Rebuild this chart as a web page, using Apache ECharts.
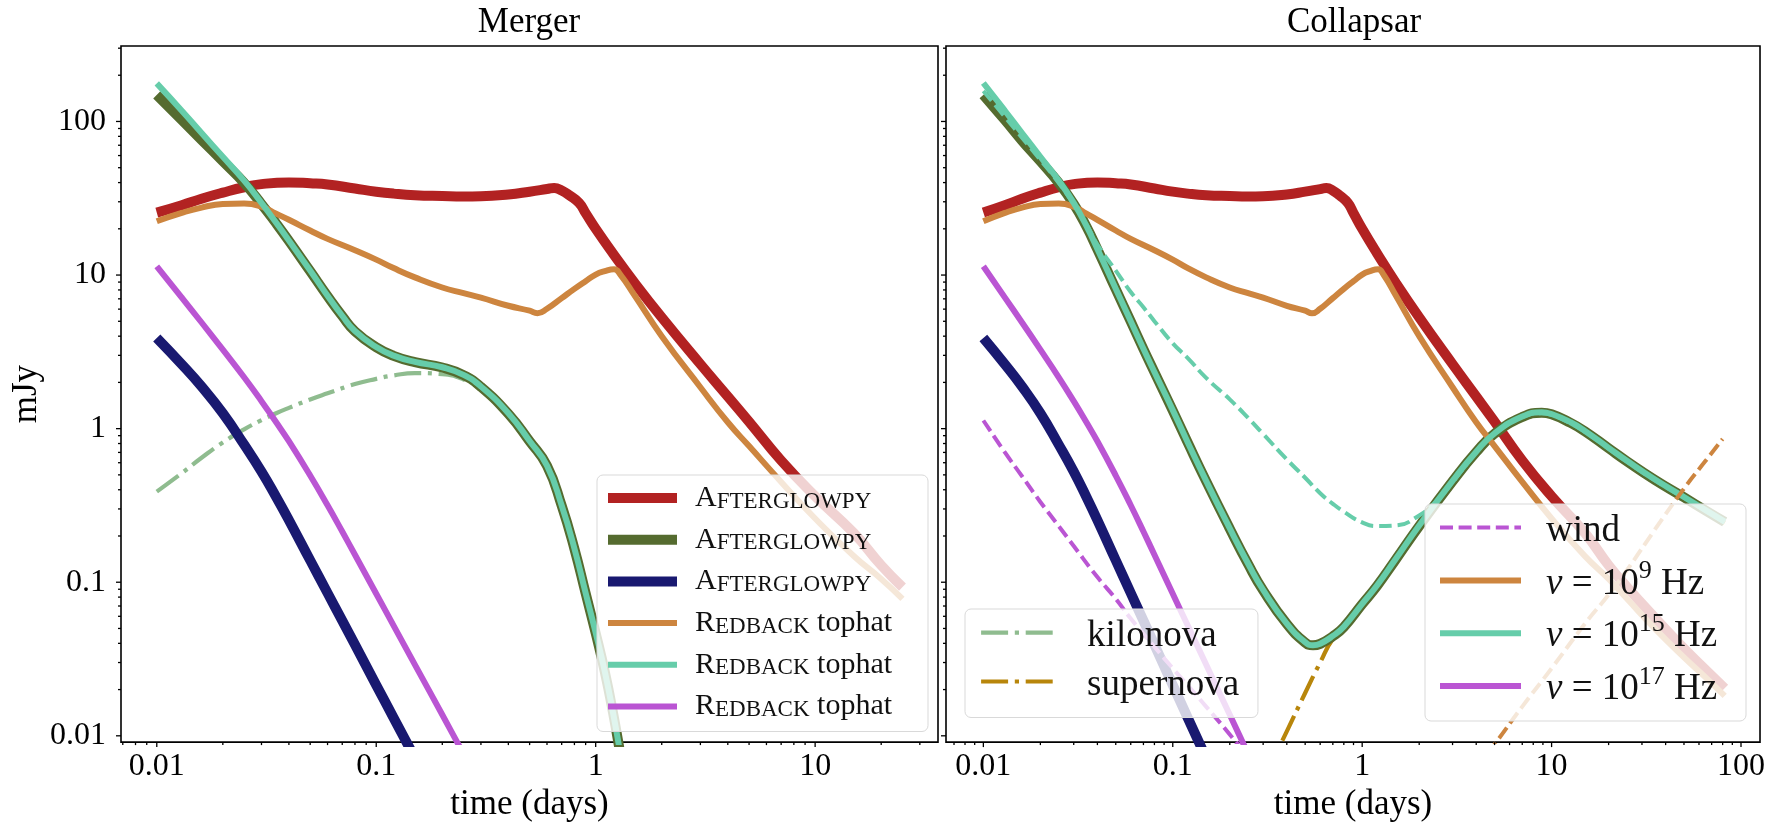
<!DOCTYPE html>
<html>
<head>
<meta charset="utf-8">
<script src="https://cdn.jsdelivr.net/npm/echarts@6/dist/echarts.min.js"></script>
<style>
html,body{margin:0;padding:0;background:#fff;}
#chart{width:1768px;height:827px;}
</style>
</head>
<body>
<div id="chart"></div>
<script>
// ---------- tick labels ----------
const decadeValues = [0.01, 0.1, 1, 10, 100];
const decadeLabels = ['0.01', '0.1', '1', '10', '100'];
const xMajorTicksLeft = [0.01, 0.1, 1, 10];
const xMinorTicksLeft = [0.007, 0.008, 0.009, 0.02, 0.03, 0.04, 0.05, 0.06, 0.07, 0.08, 0.09,
  0.2, 0.3, 0.4, 0.5, 0.6, 0.7, 0.8, 0.9, 2, 3, 4, 5, 6, 7, 8, 9, 20, 30];
const xMajorTicksRight = [0.01, 0.1, 1, 10, 100];
const xMinorTicksRight = [0.007, 0.008, 0.009, 0.02, 0.03, 0.04, 0.05, 0.06, 0.07, 0.08, 0.09,
  0.2, 0.3, 0.4, 0.5, 0.6, 0.7, 0.8, 0.9, 2, 3, 4, 5, 6, 7, 8, 9, 20, 30, 40, 50, 60, 70, 80, 90];
const yMajorTicks = [0.01, 0.1, 1, 10, 100];
const yMinorTicks = [0.02, 0.03, 0.04, 0.05, 0.06, 0.07, 0.08, 0.09, 0.2, 0.3, 0.4, 0.5, 0.6, 0.7, 0.8, 0.9,
  2, 3, 4, 5, 6, 7, 8, 9, 20, 30, 40, 50, 60, 70, 80, 90, 200, 300];

// ---------- data (time in days, flux in mJy) ----------
// Afterglowpy / Redback curves shared by both panels
const tRed = [0.01,0.013,0.016,0.02,0.025,0.03,0.04,0.05,0.06,0.08,0.1,0.12,0.15,0.2,0.25,0.3,0.4,0.5,0.6,0.647,0.7,0.76,0.84,0.9,1.0,1.2,1.5,2,3,4,5,7,10,15,20,25,35,50,65,82];
const fRed = [25.5,28.5,31.4,34.4,37.3,39.1,40.1,39.6,38.9,36.6,34.9,33.9,33.1,32.7,32.5,32.6,33.5,34.9,36.3,36.9,35.5,33.0,29.5,25.3,20.0,13.8,8.95,5.3,2.63,1.62,1.11,0.62,0.363,0.209,0.129,0.093,0.059,0.037,0.0269,0.0204];

const tOrange = [0.01,0.013,0.016,0.02,0.025,0.03,0.035,0.04,0.05,0.06,0.08,0.1,0.12,0.15,0.2,0.25,0.3,0.4,0.5,0.543,0.6,0.7,0.8,0.9,1.0,1.1,1.213,1.3,1.5,2,3,4,5,7,10,15,20,25,35,50,65,82];
const fOrange = [22.4,25.4,27.5,29.0,29.2,27.9,25.1,22.9,19.5,17.2,14.5,12.6,11.1,9.66,8.3,7.62,7.13,6.31,5.86,5.64,6.03,7.08,8.13,9.12,10.07,10.6,10.9,10.0,7.41,4.0,1.86,1.1,0.77,0.45,0.26,0.148,0.105,0.078,0.050,0.0324,0.024,0.0182];

const tNavy = [0.01,0.013,0.016,0.02,0.025,0.03,0.035,0.04,0.05,0.06,0.07,0.08,0.1,0.12,0.15,0.2];
const fNavy = [3.89,2.62,1.88,1.26,0.787,0.525,0.359,0.254,0.139,0.0851,0.0562,0.0392,0.0214,0.0131,0.00718,0.00331];

const tPurple = [0.01,0.013,0.016,0.02,0.025,0.03,0.035,0.04,0.05,0.06,0.07,0.08,0.1,0.12,0.15,0.2,0.25,0.3];
const fPurple = [11.4,7.13,4.91,3.27,2.16,1.51,1.10,0.828,0.495,0.317,0.214,0.151,0.0841,0.0522,0.0291,0.0137,0.00762,0.00473];

// Merger panel: optical (10^15 Hz) with kilonova
const tMerger = [0.01,0.013,0.016,0.02,0.025,0.03,0.035,0.04,0.05,0.06,0.07,0.08,0.1,0.12,0.15,0.2,0.25,0.3,0.4,0.5,0.6,0.7,0.8,0.9,1.0,1.1,1.2,1.3,1.4];
const fMergerGreen = [149,102.3,75.9,55.0,39.8,29.0,21.7,16.7,10.6,7.29,5.41,4.30,3.39,2.98,2.71,2.50,2.23,1.87,1.25,0.828,0.573,0.315,0.165,0.0847,0.0466,0.0262,0.0141,0.00738,0.00396];
const fMergerTeal = [177,117.5,84.1,58.9,41.2,29.5,21.9,16.8,10.7,7.33,5.43,4.32,3.40,2.99,2.72,2.51,2.24,1.88,1.26,0.83,0.575,0.316,0.166,0.0851,0.0468,0.0263,0.0141,0.00741,0.00398];

const tKilonova = [0.01,0.013,0.016,0.02,0.025,0.03,0.035,0.04,0.05,0.06,0.08,0.1,0.12,0.15,0.2,0.25,0.3,0.4,0.5,0.6,0.7,0.8,0.9,1.0,1.1,1.2,1.3];
const fKilonova = [0.389,0.513,0.646,0.813,0.989,1.135,1.259,1.365,1.549,1.698,1.95,2.11,2.22,2.30,2.26,2.09,1.82,1.20,0.79,0.537,0.30,0.158,0.081,0.0445,0.025,0.0134,0.0070];

// Collapsar panel: optical (10^15 Hz) with supernova
const tCollapsar = [0.01,0.013,0.016,0.02,0.025,0.03,0.035,0.04,0.05,0.06,0.07,0.08,0.1,0.12,0.15,0.2,0.25,0.3,0.4,0.5,0.55,0.6,0.7,0.8,1.0,1.2,1.5,2,3,4,5,7,8.87,10,12.6,15,20,25,35,50,65,82];
const fCollapsarGreen = [149,102,75,55,39.8,29.0,20.7,14.7,8.09,4.99,3.3,2.33,1.31,0.81,0.455,0.223,0.131,0.0885,0.0535,0.0405,0.0388,0.0397,0.0445,0.0511,0.072,0.095,0.140,0.232,0.454,0.704,0.928,1.19,1.27,1.24,1.09,0.96,0.745,0.613,0.465,0.357,0.293,0.247];
const fCollapsarTeal = [178,117.5,84.1,58.9,41.2,29.5,20.9,14.8,8.13,5.01,3.31,2.34,1.32,0.813,0.457,0.224,0.132,0.089,0.0537,0.0407,0.0389,0.0398,0.0447,0.0513,0.0724,0.0955,0.141,0.234,0.457,0.708,0.933,1.20,1.28,1.245,1.10,0.966,0.75,0.617,0.468,0.359,0.295,0.248];

const tSupernova = [0.3,0.4,0.5,0.6,0.7,0.8,1.0,1.2,1.5,2,3,4,5,7,8.87,10,15,20,25,35,50,65,82];
const fSupernova = [0.0051,0.0107,0.019,0.030,0.0427,0.049,0.0708,0.0933,0.138,0.229,0.447,0.692,0.912,1.17,1.25,1.22,0.944,0.733,0.603,0.457,0.351,0.288,0.243];

// wind-medium curves (dashed)
const tWind15 = [0.01,0.013,0.016,0.02,0.025,0.03,0.035,0.04,0.05,0.06,0.07,0.08,0.1,0.12,0.15,0.2,0.25,0.3,0.4,0.5,0.6,0.7,0.8,1.0,1.2,1.5,2,2.44,3,4,5,7,8.87,10,12.6,15,20,25,35,50,65,82];
const fWind15 = [158,107,78.5,56.2,39.8,28.8,21.4,15.8,10.7,7.76,6.17,5.01,3.59,2.88,2.14,1.55,1.175,0.923,0.631,0.479,0.38,0.324,0.288,0.245,0.232,0.234,0.272,0.333,0.447,0.70,0.923,1.19,1.26,1.23,1.08,0.955,0.741,0.61,0.462,0.355,0.292,0.245];
const tWind17 = [0.01,0.013,0.016,0.02,0.025,0.03,0.04,0.05,0.06,0.08,0.1,0.15,0.2,0.25];
const fWind17 = [1.13,0.70,0.49,0.333,0.232,0.172,0.108,0.078,0.058,0.038,0.0275,0.0155,0.0102,0.0072];
const tWind9 = [4,5,7,10,15,20,25,35,50,65,80];
const fWind9 = [0.0062,0.0088,0.0155,0.0275,0.0537,0.083,0.12,0.219,0.407,0.617,0.857];

const mergerEnd = 25; // merger-panel model curves stop at 25 days

// ---------- helpers ----------
const serif = "'Liberation Serif', 'DejaVu Serif', serif";
const C = {
  red: '#b22222', green: '#556b2f', navy: '#191970',
  orange: '#cd853f', teal: '#66cdaa', purple: '#ba55d3',
  kilonova: '#8fbc8f', supernova: '#b8860b'
};
const DASH = [13, 5.6];
const DASHDOT = [27, 6.7, 4.2, 6.7];

const mctx = document.createElement('canvas').getContext('2d');
function textW(parts) { // parts: [[text, size, italic], ...]
  let w = 0;
  parts.forEach(p => { mctx.font = (p[2] ? 'italic ' : '') + p[1] + 'px ' + serif; w += mctx.measureText(p[0]).width; });
  return w;
}

function pairs(t, f, tmax) {
  const out = [];
  for (let i = 0; i < t.length; i++) {
    if (tmax == null || t[i] <= tmax + 1e-9) out.push([t[i], f[i]]);
  }
  return out;
}
function line(name, panel, data, color, width, type) {
  return {
    type: 'line', name: name, xAxisIndex: panel, yAxisIndex: panel, data: data,
    symbol: 'none', smooth: 0.5, silent: true, animation: false,
    lineStyle: { color: color, width: width, type: type || 'solid', cap: 'butt', join: 'round' },
    itemStyle: { color: color },
    emphasis: { disabled: true }
  };
}
function tickSeries(dim, panel, values, len) {
  return {
    type: 'custom', xAxisIndex: panel, yAxisIndex: panel, clip: false, silent: true, z: 5,
    animation: false,
    data: values.map(v => dim === 'x' ? [v, 1, len] : [1, v, len]),
    renderItem: function (params, api) {
      const cs = params.coordSys;
      const L = api.value(2);
      if (dim === 'x') {
        const x = api.coord([api.value(0), 1])[0];
        const yb = cs.y + cs.height;
        return { type: 'line', shape: { x1: x, y1: yb, x2: x, y2: yb + L }, style: { stroke: '#000', lineWidth: 1.3 } };
      }
      const y = api.coord([1, api.value(1)])[1];
      return { type: 'line', shape: { x1: cs.x - L, y1: y, x2: cs.x, y2: y }, style: { stroke: '#000', lineWidth: 1.3 } };
    }
  };
}
function decadeFormatter(v) {
  const lg = Math.log10(v);
  const e = Math.round(lg);
  if (Math.abs(lg - e) > 1e-6) return '';
  for (let i = 0; i < decadeValues.length; i++) {
    if (Math.abs(Math.log10(decadeValues[i]) - e) < 1e-6) return decadeLabels[i];
  }
  return '';
}
function xAxisCfg(grid, min, max) {
  return {
    type: 'log', gridIndex: grid, min: min, max: max, position: 'bottom',
    axisLine: { show: false }, axisTick: { show: false }, splitLine: { show: false },
    minorTick: { show: false }, minorSplitLine: { show: false },
    axisLabel: { formatter: decadeFormatter, fontFamily: serif, fontSize: 32, color: '#000', margin: 8 },
    name: 'time (days)', nameLocation: 'middle', nameGap: 43,
    nameTextStyle: { fontFamily: serif, fontSize: 35, color: '#000' }
  };
}
function yAxisCfg(grid, showLabels) {
  const a = {
    type: 'log', gridIndex: grid, min: 0.0091, max: 310, position: 'left',
    axisLine: { show: false }, axisTick: { show: false }, splitLine: { show: false },
    minorTick: { show: false }, minorSplitLine: { show: false },
    axisLabel: { show: showLabels, formatter: decadeFormatter, fontFamily: serif, fontSize: 32, color: '#000', margin: 15 }
  };
  if (showLabels) {
    a.name = 'mJy'; a.nameLocation = 'middle'; a.nameGap = 77;
    a.nameTextStyle = { fontFamily: serif, fontSize: 35, color: '#000' };
  }
  return a;
}
const legendBase = {
  orient: 'vertical', selectedMode: false, align: 'left',
  backgroundColor: 'rgba(255,255,255,0.8)', borderColor: '#d9d9d9', borderWidth: 1, borderRadius: 6,
  lineStyle: { width: 'inherit' }, itemStyle: { opacity: 0 }
};
const txt = { fontFamily: serif, color: '#111' };

// ----- legend label parts (for fixed-width legend boxes) -----
const L1 = { ag: [['A', 30], ['FTERGLOWPY', 23]], rb: [['R', 30], ['EDBACK', 23], [' tophat', 30]] };
const L1W = 218;
const L2W = 151;
const L3W = 183;
const LF = 37;  // right-panel legend font size
const SUP = 26; // superscript size
function nuParts(p) { return [['ν', LF, true], [' = 10', LF], [p, SUP], [' Hz', LF]]; }
function spacer(parts, target) { return Math.max(0, target - textW(parts)); }

const rich1 = {
  c: Object.assign({ fontSize: 30, lineHeight: 30, verticalAlign: 'bottom' }, txt),
  s: Object.assign({ fontSize: 23, lineHeight: 30, verticalAlign: 'bottom' }, txt),
  eag: { width: spacer(L1.ag, L1W), lineHeight: 30, fontSize: 10 },
  erb: { width: spacer(L1.rb, L1W), lineHeight: 30, fontSize: 10 }
};
const rich2 = {
  n: Object.assign({ fontSize: LF, lineHeight: 44, verticalAlign: 'bottom' }, txt),
  ekilonova: { width: spacer([['kilonova', LF]], L2W), lineHeight: 44, fontSize: 10 },
  esupernova: { width: spacer([['supernova', LF]], L2W), lineHeight: 44, fontSize: 10 }
};
const rich3 = {
  n: Object.assign({ fontSize: LF, lineHeight: 44, verticalAlign: 'bottom' }, txt),
  i: Object.assign({ fontSize: LF, lineHeight: 44, verticalAlign: 'bottom', fontStyle: 'italic' }, txt),
  p: Object.assign({ fontSize: SUP, lineHeight: 33, verticalAlign: 'top' }, txt),
  ewind: { width: spacer([['wind', LF]], L3W), lineHeight: 44, fontSize: 10 },
  enu9: { width: spacer(nuParts('9'), L3W), lineHeight: 44, fontSize: 10 },
  enu15: { width: spacer(nuParts('15'), L3W), lineHeight: 44, fontSize: 10 },
  enu17: { width: spacer(nuParts('17'), L3W), lineHeight: 44, fontSize: 10 }
};

const option = {
  backgroundColor: '#fff',
  animation: false,
  title: [
    { text: 'Merger', left: 529, top: 5, textAlign: 'center', padding: 0,
      textStyle: { fontFamily: serif, fontSize: 35, fontWeight: 'normal', color: '#000' } },
    { text: 'Collapsar', left: 1354, top: 5, textAlign: 'center', padding: 0,
      textStyle: { fontFamily: serif, fontSize: 35, fontWeight: 'normal', color: '#000' } }
  ],
  grid: [
    { left: 121, top: 46, width: 817, height: 698, show: true, borderColor: '#000', borderWidth: 1.6, backgroundColor: 'transparent' },
    { left: 946, top: 46, width: 816, height: 698, show: true, borderColor: '#000', borderWidth: 1.6, backgroundColor: 'transparent' }
  ],
  xAxis: [ xAxisCfg(0, 0.00687, 36.3), xAxisCfg(1, 0.00635, 126) ],
  yAxis: [ yAxisCfg(0, true), yAxisCfg(1, false) ],
  legend: [
    Object.assign({}, legendBase, {
      data: ['ag1', 'ag2', 'ag3', 'rb1', 'rb2', 'rb3'],
      left: 597, top: 475, padding: [8, 15, 10, 6],
      itemWidth: 69, itemHeight: 30, itemGap: 11.7,
      formatter: n => n.indexOf('ag') === 0 ? '{c|A}{s|FTERGLOWPY}{eag| }' : '{c|R}{s|EDBACK}{c| tophat}{erb| }',
      textStyle: { padding: [0, 0, 0, 13], rich: rich1 }
    }),
    Object.assign({}, legendBase, {
      data: ['kilonova', 'supernova'],
      left: 965, top: 609, padding: [6, 16, 14, 14],
      itemWidth: 72, itemHeight: 44, itemGap: 9.3,
      formatter: n => '{n|' + n + '}{e' + n + '| }',
      textStyle: { padding: [0, 0, 0, 29], rich: rich2 }
    }),
    Object.assign({}, legendBase, {
      data: ['wind', 'nu9', 'nu15', 'nu17'],
      left: 1425, top: 504, padding: [6, 17, 13, 12],
      itemWidth: 81, itemHeight: 44, itemGap: 8.8,
      formatter: n => {
        if (n === 'wind') return '{n|wind}{ewind| }';
        const p = n.slice(2);
        return '{i|ν}{n| = 10}{p|' + p + '}{n| Hz}{e' + n + '| }';
      },
      textStyle: { padding: [0, 0, 0, 20], rich: rich3 }
    })
  ],
  series: [
    // ----- Merger panel -----
    line('kilonova', 0, pairs(tKilonova, fKilonova), C.kilonova, 4.2, DASHDOT),
    line('ag1', 0, pairs(tRed, fRed, mergerEnd), C.red, 10),
    line('ag2', 0, pairs(tMerger, fMergerGreen), C.green, 10),
    line('ag3', 0, pairs(tNavy, fNavy), C.navy, 10),
    line('rb1', 0, pairs(tOrange, fOrange, mergerEnd), C.orange, 6),
    line('rb2', 0, pairs(tMerger, fMergerTeal), C.teal, 6),
    line('rb3', 0, pairs(tPurple, fPurple), C.purple, 6),
    // ----- Collapsar panel -----
    line('supernova', 1, pairs(tSupernova, fSupernova), C.supernova, 4.2, DASHDOT),
    line('c_red', 1, pairs(tRed, fRed), C.red, 10),
    line('c_green', 1, pairs(tCollapsar, fCollapsarGreen), C.green, 10),
    line('c_navy', 1, pairs(tNavy, fNavy), C.navy, 10),
    line('nu9', 1, pairs(tOrange, fOrange), C.orange, 6),
    line('c_wind15', 1, pairs(tWind15, fWind15), C.teal, 4, DASH),
    line('nu15', 1, pairs(tCollapsar, fCollapsarTeal), C.teal, 6),
    line('nu17', 1, pairs(tPurple, fPurple), C.purple, 6),
    line('wind', 1, pairs(tWind17, fWind17), C.purple, 4, DASH),
    line('c_wind9', 1, pairs(tWind9, fWind9), C.orange, 4, DASH),
    // ----- axis ticks -----
    tickSeries('x', 0, xMajorTicksLeft, 5),
    tickSeries('x', 0, xMinorTicksLeft, 3),
    tickSeries('y', 0, yMajorTicks, 5),
    tickSeries('y', 0, yMinorTicks, 3),
    tickSeries('x', 1, xMajorTicksRight, 5),
    tickSeries('x', 1, xMinorTicksRight, 3),
    tickSeries('y', 1, yMajorTicks, 5),
    tickSeries('y', 1, yMinorTicks, 3)
  ]
};

const chart = echarts.init(document.getElementById('chart'), null, { renderer: 'canvas' });
chart.setOption(option);
</script>
</body>
</html>
